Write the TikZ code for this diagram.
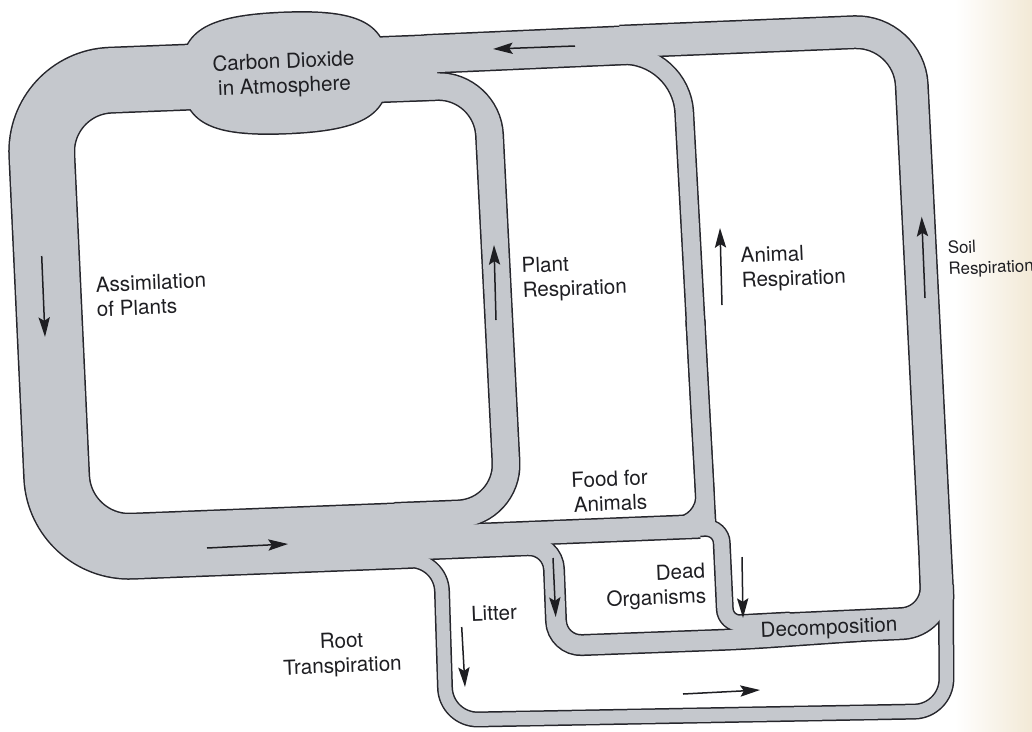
\documentclass[tikz,border=0pt]{standalone}
\usepackage{fontspec}
\setmainfont{TeX Gyre Heros}
\usetikzlibrary{arrows.meta}

\definecolor{tubeline}{RGB}{38,38,44}
\definecolor{tubefill}{RGB}{197,200,205}
\definecolor{inktext}{RGB}{30,30,34}
\definecolor{paperedge}{RGB}{242,233,214}

% one drawing unit
\newcommand\pxu{0.025cm}

% the atmosphere reservoir (a squared-off ellipse)
\newcommand\atmos[1]{%
  \path[#1, rotate around={2.4:(285,73)}]
    (388,73) .. controls (388,28) and (362,13) .. (285,13)
    .. controls (208,13) and (182,28) .. (182,73)
    .. controls (182,118) and (208,133) .. (285,133)
    .. controls (362,133) and (388,118) .. (388,73) -- cycle;}

% all flow channels; #1 = colour, #2 = extra width
\newcommand\carbonpipes[2]{%
  % assimilation loop
  \draw[#1, line width={(64+#2)*\pxu}, rounded corners={72*\pxu}]
    (437,67.4) -- (38.5,83) -- (60,549) -- (412,535.3);
  % top band between plant and animal respiration
  \draw[#1, line width={(37+#2)*\pxu}] (425,54.1) -- (636,44.8);
  % top band right part, down as soil respiration
  \draw[#1, line width={(31+#2)*\pxu}, rounded corners={55*\pxu}]
    (620,41.7) -- (909,30) -- (937.5,600);
  % plant respiration
  \draw[#1, line width={(26+#2)*\pxu}, rounded corners={50*\pxu}]
    (395,516.5) -- (508.5,512) -- (487,85) -- (400,87.5);
  % animal respiration, upper bend
  \draw[#1, line width={(17+#2)*\pxu}, rounded corners={60*\pxu}]
    (600,56) -- (681,52.5) -- (696,330);
  % animal respiration, lower bend
  \draw[#1, line width={(17+#2)*\pxu}, rounded corners={30*\pxu}]
    (695.4,320) -- (706.5,525) -- (640,527.6);
  % animal respiration, straight run into the junction
  \draw[#1, line width={(17+#2)*\pxu}] (695.4,320) -- (707,533);
  % food for animals
  \draw[#1, line width={(22+#2)*\pxu}] (405,538.2) -- (700,526.4);
  % dead animals down to decomposition
  \draw[#1, line width={(15+#2)*\pxu}, rounded corners={15*\pxu}]
    (650,529.5) -- (721,527.5) -- (725.5,624) -- (790,620.5);
  % dead organisms
  \draw[#1, line width={(19+#2)*\pxu}, rounded corners={25*\pxu}]
    (400,550.3) -- (553,544.2) -- (557,646) -- (745,639) -- (860,631);
  % decomposition
  \draw[#1, line width={(30+#2)*\pxu}, rounded corners={35*\pxu}]
    (740,631) -- (937,622) -- (935,560);
  % litter loop
  \draw[#1, line width={(13+#2)*\pxu}, rounded corners={32*\pxu}]
    (390,561.2) -- (441,559) -- (446,720) -- (946.5,711) -- (946,585);
}

\begin{document}
\begin{tikzpicture}[x=0.025cm, y=-0.025cm,
  lbl/.style={text=inktext, inner sep=0pt, rotate=2.4,
    font=\fontsize{14.7}{17.5}\selectfont},
  flow/.style={draw=inktext, line width={1.5*\pxu},
    -{Stealth[length=14pt,width=8pt,inset=2.5pt]}}]

\useasboundingbox (0,0) rectangle (1032,731);
\fill[white] (0,0) rectangle (1032,731);
\shade[left color=white, right color=paperedge] (955,0) rectangle (1032,731);

% outlines first, then the grey interiors on top
\carbonpipes{tubeline}{3}
\atmos{fill=tubeline, draw=tubeline, line width={3*\pxu}}
\carbonpipes{tubefill}{0}
\atmos{fill=tubefill}

% flow directions
\draw[flow] (575,46) -- (493,49);
\draw[flow] (41.7,256) -- (45,337);
\draw[flow] (207,548) -- (288,544);
\draw[flow] (496,320) -- (494,245);
\draw[flow] (722,305) -- (720,228);
\draw[flow] (925,298) -- (921.7,216.7);
\draw[flow] (553,558) -- (555.7,617);
\draw[flow] (742,557) -- (743,618);
\draw[flow] (461.7,627) -- (465,687);
\draw[flow] (683,694) -- (760,690);

% labels
\node[lbl, align=center] (co2) at (284,75) {Carbon Dioxide\\in Atmosphere};
\node[lbl, align=left, anchor=west] (assim) at (96,297) {Assimilation\\of Plants};
\node[lbl, align=left, anchor=west] (plantr) at (522,280) {Plant\\Respiration};
\node[lbl, align=left, anchor=west] (animalr) at (741,270) {Animal\\Respiration};
\node[lbl, align=left, anchor=west, font=\fontsize{12}{15}\selectfont]
  (soilr) at (948,260) {Soil\\Respiration};
\node[lbl, align=center] (food) at (610,491) {Food for\\Animals};
\node[lbl, align=right, anchor=east] (dead) at (706,585) {Dead\\Organisms};
\node[lbl] (litter) at (494,613) {Litter};
\node[lbl, align=center] (root) at (342,655) {Root\\Transpiration};
\node[lbl] (decomp) at (829,629) {Decomposition};
\end{tikzpicture}
\end{document}
